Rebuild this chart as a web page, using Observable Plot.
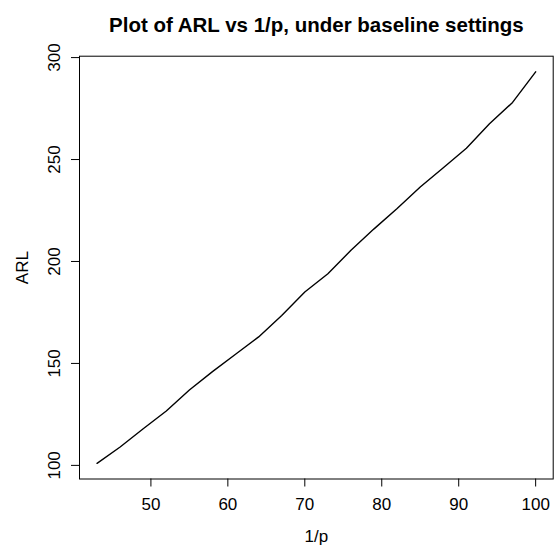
<!DOCTYPE html>
<html>
<head>
<meta charset="utf-8">
<script src="https://cdn.jsdelivr.net/npm/d3@7"></script>
<script src="https://cdn.jsdelivr.net/npm/@observablehq/plot@0.6"></script>
<style>
  html, body { margin: 0; padding: 0; background: white; }
  svg { display: block; }
</style>
</head>
<body>
<div id="chart"></div>
<script>
const invP = [43, 46, 49, 52, 55, 58, 61, 64, 67, 70, 73, 76, 79, 82, 85, 88, 91, 94, 97, 100];
const arl  = [101, 109, 118, 126.7, 137, 146, 154.5, 163, 173.5, 185, 194, 205.5, 216, 226, 236.5, 246, 255.5, 267.5, 278, 293];
const xTicks = [50, 60, 70, 80, 90, 100];
const yTicks = [100, 150, 200, 250, 300];
const titleText = "Plot of ARL vs 1/p, under baseline settings";
const xLabel = "1/p";
const yLabel = "ARL";

const data = invP.map((x, i) => ({x, y: arl[i]}));

// R-style 4% axis extension
function ext(v) {
  const lo = d3.min(v), hi = d3.max(v), pad = (hi - lo) * 0.04;
  return [lo - pad, hi + pad];
}

const font = "'Liberation Sans', Arial, Helvetica, sans-serif";

const chart = Plot.plot({
  width: 554,
  height: 548,
  marginLeft: 79,
  marginRight: 1.3,
  marginTop: 55.7,
  marginBottom: 69.5,
  x: {domain: ext(invP)},
  y: {domain: ext(arl)},
  style: {fontFamily: font, background: "white", color: "black"},
  marks: [
    Plot.frame({stroke: "black", strokeWidth: 1}),
    Plot.axisX({ticks: xTicks, tickSize: 8, tickFormat: () => "", label: null}),
    Plot.axisY({ticks: yTicks, tickSize: 8, tickFormat: () => "", label: null}),
    Plot.text(xTicks, {x: d => d, text: d => String(d), frameAnchor: "bottom", dy: 30.5, lineAnchor: "bottom", fontSize: 17, fill: "black"}),
    Plot.text(yTicks, {y: d => d, text: d => String(d), frameAnchor: "left", dx: -20, rotate: -90, lineAnchor: "bottom", textAnchor: "middle", fontSize: 17, fill: "black"}),
    Plot.text([xLabel], {text: d => d, frameAnchor: "bottom", dy: 62.5, lineAnchor: "bottom", fontSize: 17, fill: "black"}),
    Plot.text([yLabel], {text: d => d, frameAnchor: "left", dx: -52, rotate: -90, lineAnchor: "bottom", textAnchor: "middle", fontSize: 17, fill: "black"}),
    Plot.text([titleText], {text: d => d, frameAnchor: "top", dy: -24.7, lineAnchor: "bottom", fontWeight: "bold", fontSize: 20.5, fill: "black"}),
    Plot.line(data, {x: "x", y: "y", stroke: "black", strokeWidth: 1.4})
  ]
});

document.getElementById("chart").appendChild(chart);
</script>
</body>
</html>
